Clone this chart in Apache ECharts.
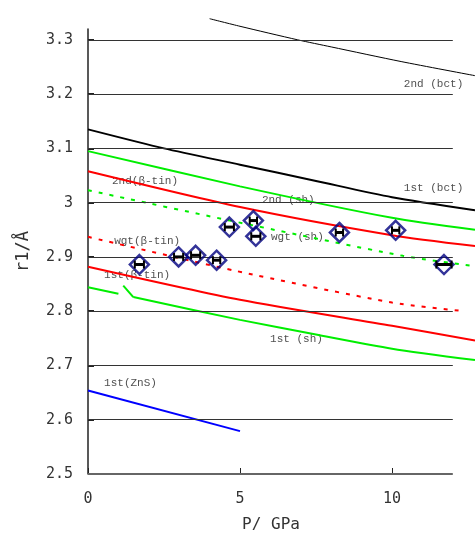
<!DOCTYPE html>
<html>
<head>
<meta charset="utf-8">
<script src="https://cdn.jsdelivr.net/npm/echarts@6/dist/echarts.min.js"></script>
<style>
html,body{margin:0;padding:0;background:#fff}
#chart{width:475px;height:538px}
</style>
</head>
<body>
<div id="chart"></div>
<script>
// axis ticks
var xTicks=[0,5,10];
var yTicks=[2.5,2.6,2.7,2.8,2.9,3,3.1,3.2,3.3];
var xFrameEnd=12;

// curves (P in GPa, r1 in angstrom)
var bct2X=[4,5,6.9,8,10.3,12.73];
var bct2Y=[3.339,3.325,3.300,3.287,3.260,3.234];
var bct1X=[0,2.5,5,7.5,10,12.73];
var bct1Y=[3.135,3.100,3.070,3.040,3.010,2.986];
var sh2X=[0,5,10,12.73];
var sh2Y=[3.095,3.030,2.972,2.950];
var tin2X=[0,5,10,12.73];
var tin2Y=[3.058,2.992,2.940,2.920];
var shWX=[0,4.67,10.36,12.73];
var shWY=[3.023,2.967,2.902,2.883];
var tinWX=[0,4.8,10,12.4];
var tinWY=[2.937,2.875,2.816,2.800];
var tin1X=[0,5,10,12.73];
var tin1Y=[2.882,2.821,2.773,2.746];
var sh1aX=[0,1.0];
var sh1aY=[2.844,2.832];
var sh1bX=[1.16,1.49];
var sh1bY=[2.847,2.826];
var sh1cX=[1.49,5,7.5,10,12.73];
var sh1cY=[2.826,2.784,2.757,2.731,2.710];
var znsX=[0,5];
var znsY=[2.654,2.579];

// measured points with pressure error
var expP=[1.69,2.98,3.54,4.23,4.65,5.44,5.52,8.27,10.12,11.71];
var expR=[2.886,2.900,2.903,2.894,2.955,2.967,2.938,2.945,2.949,2.886];
var expErr=[0.15,0.15,0.15,0.12,0.15,0.12,0.15,0.12,0.12,0.25];

// curve labels
var labText=['2nd (bct)','1st (bct)','2nd (sh)','wgt (sh)','2nd(\u03b2-tin)','wgt(\u03b2-tin)','1st(\u03b2-tin)','1st (sh)','1st(ZnS)'];
var labX=[10.39,10.39,5.72,6.02,0.79,0.86,0.53,5.99,0.53];
var labY=[3.219,3.027,3.005,2.937,3.040,2.929,2.867,2.748,2.667];

function zip(xs,ys){
	var d=[];
	for(var i=0;i<xs.length;i++) d.push([xs[i],ys[i]]);
	return d;
}
function curve(xs,ys,color,width,type,smooth){
	return {
		type:'line',
		data:zip(xs,ys),
		smooth:smooth===undefined?0.25:smooth,
		clip:false,
		symbol:'none',
		silent:true,
		lineStyle:{color:color,width:width,type:type||'solid'}
	};
}

var chart=echarts.init(document.getElementById('chart'));
var expData=[];
for(var i=0;i<expP.length;i++) expData.push([expP[i],expR[i],expErr[i]]);
var labData=[];
for(var j=0;j<labText.length;j++) labData.push([labX[j],labY[j],labText[j]]);

// horizontal grid lines + bottom frame, stopping at xFrameEnd
var gridLines=yTicks.map(function(v,k){
	return [
		{coord:[0,v],lineStyle:k===0?{color:'#666',width:2}:{color:'#333',width:1}},
		{coord:[xFrameEnd,v]}
	];
});

chart.setOption({
	animation:false,
	grid:{left:88,right:0,top:29,bottom:61},
	xAxis:{
		type:'value',min:0,max:12.73,
		name:'P/ GPa',nameLocation:'middle',nameGap:43,
		nameTextStyle:{fontFamily:'DejaVu Sans Mono',fontSize:16,color:'#333',padding:[0,21,0,0]},
		axisLine:{show:false},
		axisTick:{show:true,inside:true,length:6,customValues:xTicks,lineStyle:{color:'#222'}},
		axisLabel:{customValues:xTicks,margin:18,fontFamily:'DejaVu Sans Mono',fontSize:15,color:'#333'},
		splitLine:{show:false}
	},
	yAxis:{
		type:'value',min:2.5,max:3.32,
		name:'r1/\u00c5',nameLocation:'middle',nameGap:56,nameRotate:90,
		nameTextStyle:{fontFamily:'DejaVu Sans Mono',fontSize:17,color:'#333'},
		axisLine:{show:true,lineStyle:{color:'#222',width:1.5}},
		axisTick:{inside:true,length:6,customValues:yTicks,lineStyle:{color:'#222',width:2}},
		axisLabel:{customValues:yTicks,margin:15,fontFamily:'DejaVu Sans Mono',fontSize:15,color:'#333'},
		splitLine:{show:false}
	},
	series:[
		{
			type:'line',data:[],silent:true,
			markLine:{
				symbol:'none',silent:true,label:{show:false},
				lineStyle:{color:'#333',width:1,type:'solid'},
				data:gridLines
			}
		},
		curve(bct2X,bct2Y,'#000',1),
		curve(bct1X,bct1Y,'#000',2),
		curve(sh2X,sh2Y,'#00ee00',2),
		curve(tin2X,tin2Y,'#ff0000',2),
		curve(shWX,shWY,'#00ee00',2,[4,7]),
		curve(tinWX,tinWY,'#ff0000',2,[4,7]),
		curve(tin1X,tin1Y,'#ff0000',2),
		curve(sh1aX,sh1aY,'#00ee00',2),
		curve(sh1bX,sh1bY,'#00ee00',2,'solid',false),
		curve(sh1cX,sh1cY,'#00ee00',2),
		curve(znsX,znsY,'#0000ff',2),
		{
			type:'scatter',
			data:expData,
			symbol:'diamond',symbolSize:[19,19],
			itemStyle:{color:'rgba(0,0,0,0)',borderColor:'#000080',borderWidth:2.5},
			z:5
		},
		{
			type:'custom',
			data:expData,
			z:6,
			renderItem:function(params,api){
				var x=api.value(0),y=api.value(1),e=api.value(2);
				var a=api.coord([x-e,y]),b=api.coord([x+e,y]);
				return {type:'group',children:[
					{type:'line',shape:{x1:a[0],y1:a[1],x2:b[0],y2:b[1]},style:{stroke:'#000',lineWidth:3}},
					{type:'line',shape:{x1:a[0],y1:a[1]-4,x2:a[0],y2:a[1]+4},style:{stroke:'#000',lineWidth:2}},
					{type:'line',shape:{x1:b[0],y1:b[1]-4,x2:b[0],y2:b[1]+4},style:{stroke:'#000',lineWidth:2}}
				]};
			}
		},
		{
			type:'scatter',
			data:labData,
			symbolSize:0,
			silent:true,
			label:{
				show:true,position:'right',distance:0,
				formatter:function(p){return p.data[2];},
				fontFamily:'Liberation Mono',fontSize:11,color:'#222'
			}
		}
	]
});
</script>
</body>
</html>
